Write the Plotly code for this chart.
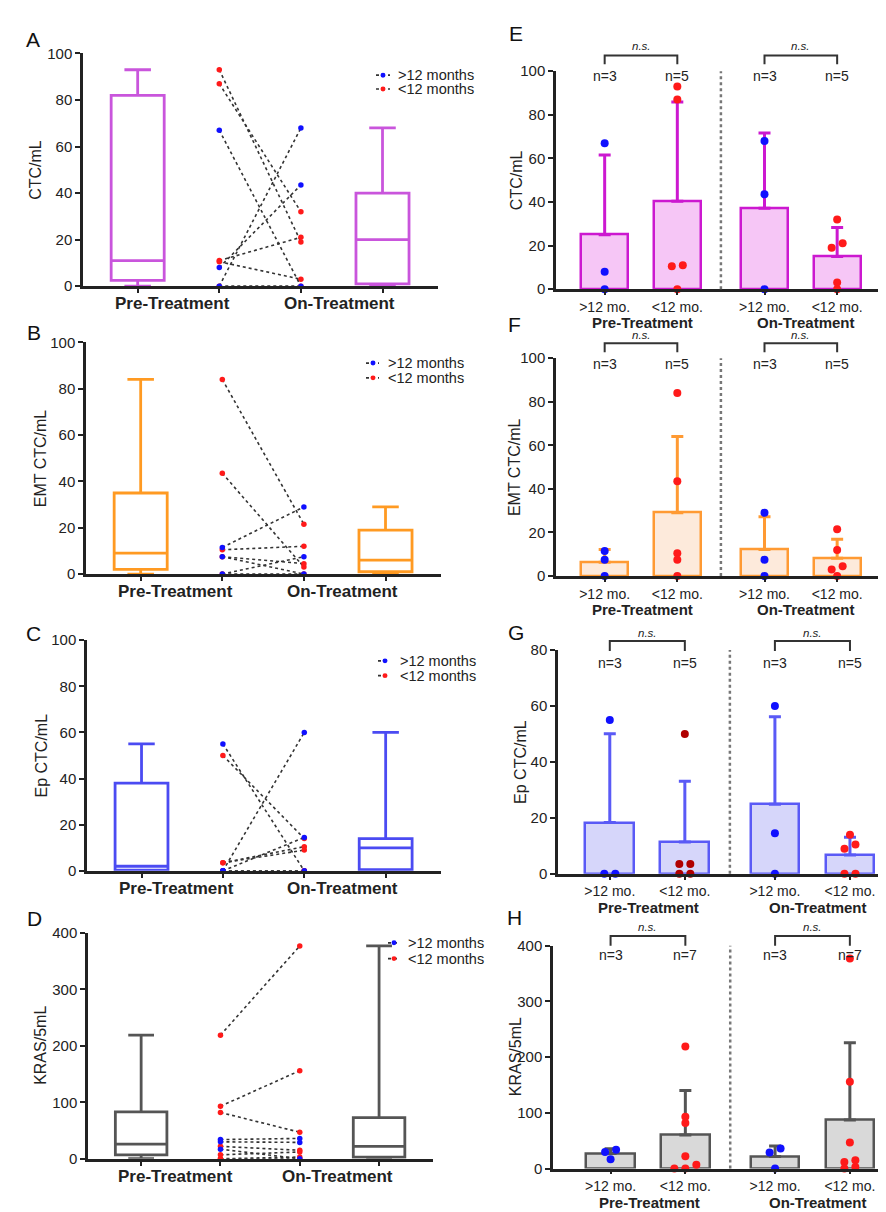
import numpy as np
import plotly.graph_objects as go

W, H = 886, 1212
FONT = "Liberation Sans, Arial, sans-serif"
AX = "#222222"

# ---------------- data ----------------
PHASES = ["Pre-Treatment", "On-Treatment"]
GROUP_TICKS = [">12 mo.", "<12 mo.", ">12 mo.", "<12 mo."]
LEGEND_LABELS = [">12 months", "<12 months"]
LETTERS_LEFT = ["A", "B", "C", "D"]
LETTERS_RIGHT = ["E", "F", "G", "H"]
Y_TITLES = ["CTC/mL", "EMT CTC/mL", "Ep CTC/mL", "KRAS/5mL"]

# CTC/mL (patients paired by index, pre -> on)
ctc_pre_gt12 = [67, 8, 0]
ctc_on_gt12 = [0, 43.5, 68]
ctc_pre_lt12 = [93, 87, 11, 10.5, 0]
ctc_on_lt12 = [19, 32, 21, 3, 0]
ctc_box_pre = [0, 2.5, 11, 82, 93]      # min, q1, median, q3, max
ctc_box_on = [0, 1, 20, 40, 68]

# EMT CTC/mL
emt_pre_gt12 = [11.5, 7.5, 0]
emt_on_gt12 = [29, 0, 7.5]
emt_pre_lt12 = [84, 43.5, 10.5, 7.5, 0]
emt_on_lt12 = [21.5, 3, 12, 4.5, 0]
emt_box_pre = [0, 2, 9, 35, 84]
emt_box_on = [0, 1, 6, 19, 29]

# Ep CTC/mL
ep_pre_gt12 = [55, 0, 0]
ep_on_gt12 = [0, 60, 14.5]
ep_pre_lt12 = [50, 3.5, 3.5, 0, 0]
ep_on_lt12 = [14, 10.5, 9, 0, 0]
ep_box_pre = [0, 0.3, 2, 38, 55]
ep_box_on = [0, 0.5, 10, 14, 60]

# KRAS/5mL
kras_pre_gt12 = [34, 30, 17]
kras_on_gt12 = [36, 29, 0]
kras_pre_lt12 = [219, 93, 82, 22, 7, 0, 0]
kras_on_lt12 = [377, 156, 47, 15, 12, 3, 0]
kras_box_pre = [0, 7, 26, 83, 219]
kras_box_on = [0, 3, 22, 73, 377]

BLUE = "#1010ff"
RED = "#ff1a1a"
DARKRED = "#b00000"

MEASURES = [
    dict(pre_gt=ctc_pre_gt12, on_gt=ctc_on_gt12, pre_lt=ctc_pre_lt12, on_lt=ctc_on_lt12,
         box_pre=ctc_box_pre, box_on=ctc_box_on, lmax=100, ldt=20, rmax=100, rdt=20,
         box_color="#c955dc", edge="#cc18d0", fill="#f6c6f6", lt_pre_color=RED),
    dict(pre_gt=emt_pre_gt12, on_gt=emt_on_gt12, pre_lt=emt_pre_lt12, on_lt=emt_on_lt12,
         box_pre=emt_box_pre, box_on=emt_box_on, lmax=100, ldt=20, rmax=100, rdt=20,
         box_color="#ff9a22", edge="#ff9a33", fill="#fdeadb", lt_pre_color=RED),
    dict(pre_gt=ep_pre_gt12, on_gt=ep_on_gt12, pre_lt=ep_pre_lt12, on_lt=ep_on_lt12,
         box_pre=ep_box_pre, box_on=ep_box_on, lmax=100, ldt=20, rmax=80, rdt=20,
         box_color="#4b4bf2", edge="#5a5af6", fill="#d6d6fa", lt_pre_color=DARKRED),
    dict(pre_gt=kras_pre_gt12, on_gt=kras_on_gt12, pre_lt=kras_pre_lt12, on_lt=kras_on_lt12,
         box_pre=kras_box_pre, box_on=kras_box_on, lmax=400, ldt=100, rmax=400, rdt=100,
         box_color="#555555", edge="#555555", fill="#d9d9d9", lt_pre_color=RED),
]

# ---------------- layout geometry (pixels) ----------------
LEFT_DOM = [((75, 430), (37, 273)), ((78, 433), (330, 565)),
            ((79, 433), (632, 866)), ((80, 425), (929, 1158))]
LEFT_XRANGE = (-0.67, 3.68)
LEFT_LEG = [(368, 382, 375, 388, 59, 73), (358, 371, 365, 378, 351, 366),
            (370, 382, 377, 390, 653, 668), (380, 391, 386, 398, 939, 955)]
LEFT_LETTER = [(25, 23), (26, 320), (25, 625), (26, 914)]
LEFT_YT = [28, 32, 33, 33]

RIGHT_DOM = [((548, 880), (55, 276)), ((548, 880), (346, 567)),
             ((550, 884), (642, 869)), ((545, 880), (942, 1168))]
RIGHT_XRANGE = [(-0.67, 3.9), (-0.67, 3.9), (-0.69, 3.76), (-0.77, 3.71)]
RIGHT_POS = [0, 1, 2.2, 3.2]
SEP_X = 1.6
RIGHT_BRK = [(39, 48, 29, 60), (331, 340, 323, 352), (633, 643, 625, 655), (932, 942, 923, 951)]
RIGHT_LETTER = [(508, 17), (506, 312), (508, 624), (506, 913)]
RIGHT_YT = [508, 506, 513, 507]


def px_x(p):
    return p / W


def px_y(p):
    return 1 - p / H


def dodge(vals, ppu_y, ppu_x, thr=5.0, step=11.0):
    vals = np.asarray(vals, dtype=float)
    order = np.argsort(vals, kind="stable")
    offs = np.zeros(len(vals))
    clusters, cur = [], [order[0]]
    for a, b in zip(order[:-1], order[1:]):
        if (vals[b] - vals[a]) * ppu_y < thr:
            cur.append(b)
        else:
            clusters.append(cur)
            cur = [b]
    clusters.append(cur)
    for c in clusters:
        k = len(c)
        if k == 1:
            o = [0]
        elif k == 2:
            o = [-0.5, 0.5]
        elif k == 3:
            o = [-1, 0, 1]
        else:
            o = [(-0.5 if i % 2 == 0 else 0.5) for i in range(k)]
        for idx, oo in zip(c, o):
            offs[idx] = oo * step / ppu_x
    return offs


fig = go.Figure()
layout = dict(width=W, height=H, margin=dict(l=0, r=0, t=0, b=0), autosize=False,
              paper_bgcolor="white", plot_bgcolor="white", showlegend=False,
              font=dict(family=FONT, color=AX))
shapes, annos = [], []


def axnames(i):
    s = "" if i == 1 else str(i)
    return "x" + s, "y" + s, "xaxis" + s, "yaxis" + s


def yaxis_dict(dom_y, xname, ymax, dt):
    return dict(domain=[px_y(dom_y[1]), px_y(dom_y[0])], range=[0, ymax], anchor=xname,
                tick0=0, dtick=dt, ticks="outside", ticklen=5, tickwidth=2, tickcolor=AX,
                showline=True, linecolor=AX, linewidth=2.5, showgrid=False, zeroline=False,
                tickfont=dict(size=15, color=AX, family=FONT))


for k, m in enumerate(MEASURES):
    # ---------- left panel: box plots + paired lines ----------
    i = k + 1
    xn, yn, xa, ya = axnames(i)
    (x0, x1), (yt, yb) = LEFT_DOM[k]
    layout[xa] = dict(domain=[px_x(x0), px_x(x1)], range=list(LEFT_XRANGE), anchor=yn,
                      tickvals=[0, 1, 2, 3], ticktext=[""] * 4, ticks="outside", ticklen=4,
                      tickwidth=2, tickcolor=AX, showline=True, linecolor=AX, linewidth=2.5,
                      showgrid=False, zeroline=False)
    layout[ya] = yaxis_dict((yt, yb), xn, m["lmax"], m["ldt"])

    for pos, b in ((0, m["box_pre"]), (3, m["box_on"])):
        fig.add_trace(go.Box(x=[pos], lowerfence=[b[0]], q1=[b[1]], median=[b[2]], q3=[b[3]],
                             upperfence=[b[4]], width=0.65, whiskerwidth=0.5, orientation="v",
                             line=dict(color=m["box_color"], width=2.8),
                             fillcolor="rgba(255,255,255,0)", boxpoints=False,
                             hoverinfo="skip", xaxis=xn, yaxis=yn))
    for pre, on, col in ((m["pre_lt"], m["on_lt"], RED), (m["pre_gt"], m["on_gt"], BLUE)):
        xs, ys = [], []
        for a, b in zip(pre, on):
            xs += [1, 2, None]
            ys += [a, b, None]
        fig.add_trace(go.Scatter(x=xs, y=ys, mode="lines+markers",
                                 line=dict(color="#333333", dash="dot", width=1.6),
                                 marker=dict(color=col, size=5.5), cliponaxis=False,
                                 hoverinfo="skip", xaxis=xn, yaxis=yn))
    # category labels
    for xv, txt in ((0.43, PHASES[0]), (2.47, PHASES[1])):
        annos.append(dict(x=xv, xref=xn, y=px_y(yb + 18), yref="paper", text=f"<b>{txt}</b>",
                          showarrow=False, font=dict(size=17, family=FONT, color=AX),
                          xanchor="center", yanchor="middle"))
    # legend
    lx0, lx1, dx, tx, r1, r2 = LEFT_LEG[k]
    for ry, col, lab in ((r1, BLUE, LEGEND_LABELS[0]), (r2, RED, LEGEND_LABELS[1])):
        shapes.append(dict(type="line", xref="paper", yref="paper", x0=px_x(lx0), x1=px_x(lx1),
                           y0=px_y(ry), y1=px_y(ry), line=dict(color="#333333", dash="dot", width=1.6)))
        shapes.append(dict(type="circle", xref="paper", yref="paper", x0=px_x(dx - 2.5),
                           x1=px_x(dx + 2.5), y0=px_y(ry + 2.5), y1=px_y(ry - 2.5),
                           fillcolor=col, line=dict(color=col, width=0)))
        annos.append(dict(x=px_x(tx), y=px_y(ry), xref="paper", yref="paper", text=lab,
                          showarrow=False, xanchor="left", yanchor="middle",
                          font=dict(size=14.5, family=FONT, color=AX)))
    lx, ly = LEFT_LETTER[k]
    annos.append(dict(x=px_x(lx), y=px_y(ly), xref="paper", yref="paper", text=LETTERS_LEFT[k],
                      showarrow=False, font=dict(size=21, family=FONT, color="#111"),
                      xanchor="center", yanchor="middle"))
    annos.append(dict(x=px_x(LEFT_YT[k]), y=px_y((yt + yb) / 2), xref="paper", yref="paper",
                      text=Y_TITLES[k], textangle=-90, showarrow=False,
                      font=dict(size=16, family=FONT, color=AX), xanchor="center", yanchor="middle"))

    # ---------- right panel: bars + points ----------
    i = k + 5
    xn, yn, xa, ya = axnames(i)
    (x0, x1), (yt, yb) = RIGHT_DOM[k]
    xr = RIGHT_XRANGE[k]
    layout[xa] = dict(domain=[px_x(x0), px_x(x1)], range=list(xr), anchor=yn,
                      tickvals=RIGHT_POS, ticktext=GROUP_TICKS, ticks="outside", ticklen=3,
                      tickwidth=2, tickcolor=AX, showline=True, linecolor=AX, linewidth=2.5,
                      showgrid=False, zeroline=False,
                      tickfont=dict(size=14, family=FONT, color=AX))
    layout[ya] = yaxis_dict((yt, yb), xn, m["rmax"], m["rdt"])

    groups = [(m["pre_gt"], BLUE), (m["pre_lt"], m["lt_pre_color"]),
              (m["on_gt"], BLUE), (m["on_lt"], RED)]
    means = [float(np.mean(g)) for g, _ in groups]
    sds = [float(np.std(g, ddof=1)) for g, _ in groups]
    fig.add_trace(go.Bar(x=RIGHT_POS, y=means, width=0.65,
                         marker=dict(color=m["fill"], line=dict(color=m["edge"], width=2.5)),
                         error_y=dict(type="data", symmetric=False, array=sds,
                                      arrayminus=[0] * 4, color=m["edge"], thickness=3, width=6),
                         hoverinfo="skip", xaxis=xn, yaxis=yn))
    ppu_y = (yb - yt) / m["rmax"]
    ppu_x = (x1 - x0) / (xr[1] - xr[0])
    for pos, (g, col) in zip(RIGHT_POS, groups):
        offs = dodge(g, ppu_y, ppu_x)
        fig.add_trace(go.Scatter(x=[pos + o for o in offs], y=g, mode="markers",
                                 marker=dict(color=col, size=8), cliponaxis=False,
                                 hoverinfo="skip", xaxis=xn, yaxis=yn))
    shapes.append(dict(type="line", xref=xn, yref=f"{yn} domain", x0=SEP_X, x1=SEP_X, y0=0, y1=1,
                       line=dict(color="#777777", dash="dot", width=2.5)))
    by, bl, nsy, ny = RIGHT_BRK[k]
    for a, b in ((RIGHT_POS[0], RIGHT_POS[1]), (RIGHT_POS[2], RIGHT_POS[3])):
        shapes.append(dict(type="path", xref=xn, yref="paper",
                           path=f"M {a},{px_y(bl)} L {a},{px_y(by)} L {b},{px_y(by)} L {b},{px_y(bl)}",
                           line=dict(color="#333333", width=2)))
        annos.append(dict(x=(a + b) / 2, xref=xn, y=px_y(nsy), yref="paper", text="<i>n.s.</i>",
                          showarrow=False, font=dict(size=11.5, family=FONT, color=AX),
                          xanchor="center", yanchor="middle"))
    for pos, (g, _) in zip(RIGHT_POS, groups):
        annos.append(dict(x=pos, xref=xn, y=px_y(ny), yref="paper", text=f"n={len(g)}",
                          showarrow=False, font=dict(size=14, family=FONT, color=AX),
                          xanchor="center", yanchor="middle"))
    for xv, txt in ((0.52, PHASES[0]), (2.77, PHASES[1])):
        annos.append(dict(x=xv, xref=xn, y=px_y(yb + 34), yref="paper", text=f"<b>{txt}</b>",
                          showarrow=False, font=dict(size=15, family=FONT, color=AX),
                          xanchor="center", yanchor="middle"))
    lx, ly = RIGHT_LETTER[k]
    annos.append(dict(x=px_x(lx), y=px_y(ly), xref="paper", yref="paper", text=LETTERS_RIGHT[k],
                      showarrow=False, font=dict(size=21, family=FONT, color="#111"),
                      xanchor="center", yanchor="middle"))
    annos.append(dict(x=px_x(RIGHT_YT[k]), y=px_y((yt + yb) / 2), xref="paper", yref="paper",
                      text=Y_TITLES[k], textangle=-90, showarrow=False,
                      font=dict(size=16, family=FONT, color=AX), xanchor="center", yanchor="middle"))

layout["shapes"] = shapes
layout["annotations"] = annos
layout["bargap"] = 0
fig.update_layout(**layout)
fig.write_html("out.html")
